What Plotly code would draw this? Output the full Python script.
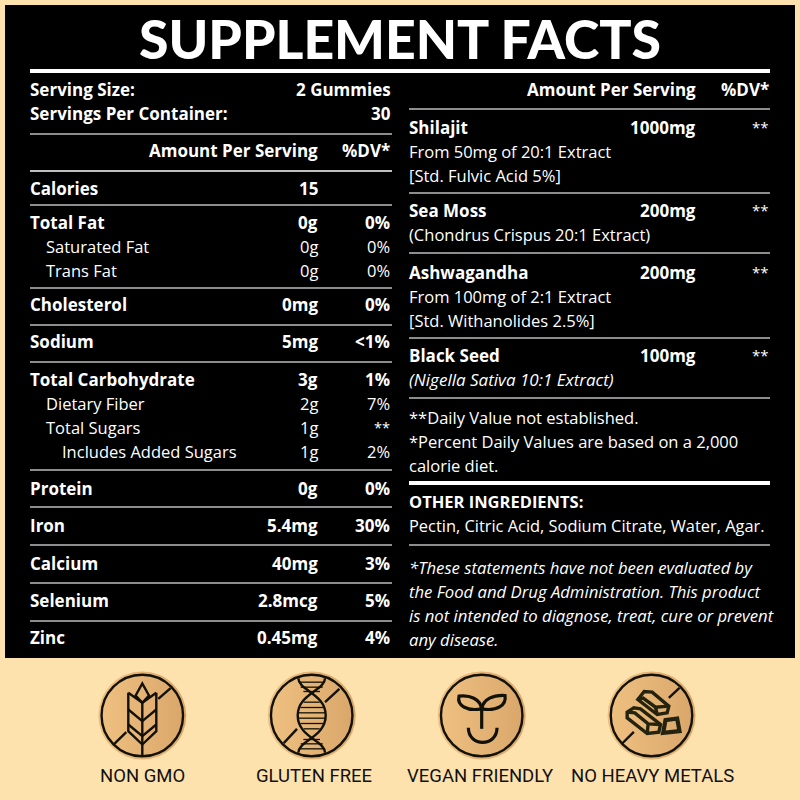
import plotly.graph_objects as go

# ---------- content ----------
title = "SUPPLEMENT FACTS"
serving_labels = ["Serving Size:", "Servings Per Container:"]
serving_values = ["2 Gummies", "30"]
amount_header = "Amount Per Serving"
dv_header = "%DV*"
nutrients = ["Calories", "Total Fat", "Saturated Fat", "Trans Fat", "Cholesterol", "Sodium",
             "Total Carbohydrate", "Dietary Fiber", "Total Sugars", "Includes Added Sugars",
             "Protein", "Iron", "Calcium", "Selenium", "Zinc"]
amounts = ["15", "0g", "0g", "0g", "0mg", "5mg", "3g", "2g", "1g", "1g", "0g", "5.4mg", "40mg", "2.8mcg", "0.45mg"]
daily_values = ["", "0%", "0%", "0%", "0%", "<1%", "1%", "7%", "**", "2%", "0%", "30%", "3%", "5%", "4%"]
ingredients = ["Shilajit", "Sea Moss", "Ashwagandha", "Black Seed"]
ingredient_amounts = ["1000mg", "200mg", "200mg", "100mg"]
ingredient_dv = ["**", "**", "**", "**"]
ingredient_notes = ["From 50mg of 20:1 Extract", "[Std. Fulvic Acid 5%]", "(Chondrus Crispus 20:1 Extract)",
                    "From 100mg of 2:1 Extract", "[Std. Withanolides 2.5%]", "(Nigella Sativa 10:1 Extract)"]
footnotes = ["**Daily Value not established.", "*Percent Daily Values are based on a 2,000", "calorie diet."]
other_title = "OTHER INGREDIENTS:"
other_text = "Pectin, Citric Acid, Sodium Citrate, Water, Agar."
disclaimer = ["*These statements have not been evaluated by", "the Food and Drug Administration. This product",
              "is not intended to diagnose, treat, cure or prevent", "any disease."]
badges = ["NON GMO", "GLUTEN FREE", "VEGAN FRIENDLY", "NO HEAVY METALS"]

# ---------- layout ----------
FONT = "Open Sans"
BADGE_FONT = "Roboto"
S_BOLD = 17
S_REG = 16.5
nutrient_y = [188, 222, 246, 270, 304, 341, 379, 403, 427, 451, 488, 525, 563, 600, 637]
nutrient_x = [29, 29, 45, 45, 29, 29, 29, 45, 45, 61, 29, 29, 29, 29, 29]
nutrient_bold = [1, 1, 0, 0, 1, 1, 1, 0, 0, 0, 1, 1, 1, 1, 1]
ingredient_y = [127, 210, 272, 355]
note_y = [151, 175, 234, 296, 320, 379]
note_italic = [0, 0, 0, 0, 0, 1]
left_gray = [134, 205, 288, 325, 362, 470, 507, 545, 583, 621]
left_white = [171]
right_gray = [109, 193, 253, 338, 398, 545]

BG = "#FDE2AE"
annos = []


def t(x, y, s, anchor="left", bold=False, italic=False, size=None, font=FONT, color="white"):
    if size is None:
        size = S_BOLD if bold else S_REG
    annos.append(dict(x=x, y=y, text=s.replace("<", "&lt;"), xref="x", yref="y", showarrow=False, xanchor=anchor,
                      yanchor="middle", borderpad=0,
                      font=dict(family=font, size=size, color=color,
                                weight=900 if font == "Lato" else (700 if bold else 400),
                                style="italic" if italic else "normal")))


t(400, 38, title, "center", True, size=53.5, font="Lato")
for lab, val, y in zip(serving_labels, serving_values, [89, 113]):
    t(29, y, lab, bold=True)
    t(392, y, val, "right", True)
t(318.5, 150, amount_header, "right", True)
t(391, 150, dv_header, "right", True)
for n, a, d, x, y, b in zip(nutrients, amounts, daily_values, nutrient_x, nutrient_y, nutrient_bold):
    t(x, y, n, bold=bool(b))
    t(318.5, y, a, "right", bool(b))
    if d:
        t(391, y, d, "right", bool(b), size=14.5 if d == "**" else None)
t(696.5, 89, amount_header, "right", True)
t(770, 89, dv_header, "right", True)
for n, a, d, y in zip(ingredients, ingredient_amounts, ingredient_dv, ingredient_y):
    t(408, y, n, bold=True)
    t(696.5, y, a, "right", True)
    t(770, y, d, "right", size=15)
for n, y, i in zip(ingredient_notes, note_y, note_italic):
    t(408, y, n, italic=bool(i), size=17 if i else None)
for n, y in zip(footnotes, [417, 441, 465]):
    t(408, y, n)
t(408, 501, other_title, bold=True, size=16.5)
t(408, 525, other_text, size=16.4)
for n, y in zip(disclaimer, [567, 591, 615, 639]):
    t(408, y, n, italic=True, size=16.7)
for n, x in zip(badges, [142, 313.5, 479.5, 652]):
    t(x, 776, n, "center", size=18.5, font=BADGE_FONT, color="#111111")

shapes = [dict(type="rect", x0=5, x1=795, y0=5, y1=658, fillcolor="black", line_width=0, layer="below")]


def hline(x0, x1, y, w, c):
    shapes.append(dict(type="line", x0=x0, x1=x1, y0=y, y1=y, line=dict(color=c, width=w)))


hline(30, 770, 71, 4, "white")
for y in left_gray:
    hline(30, 392, y, 1.6, "#BDBDBD")
for y in left_white:
    hline(30, 392, y, 1.6, "white")
for y in right_gray:
    hline(409, 770, y, 1.6, "#BDBDBD")
hline(409, 770, 483, 4, "white")

ICON = "#111108"
BAR = "#24230F"
centers = [(142.3, 715.5), (311.7, 715.5), (481.7, 715.5), (651.5, 715.5)]


def icon_path(cx, cy, d, w=2.4, color=ICON):
    # d: list of ('M'|'L'|'C'|'Z', pts) in 3x zoomed offsets from the icon centre
    out = []
    for cmd, *pts in d:
        out.append(cmd + " " + " ".join(f"{cx + p[0] / 3:.2f},{cy + p[1] / 3:.2f}" for p in pts))
    shapes.append(dict(type="path", path=" ".join(out), line=dict(color=color, width=w),
                       fillcolor="rgba(0,0,0,0)"))


def poly(*pts, close=False):
    d = [("M", pts[0])] + [("L", p) for p in pts[1:]]
    if close:
        d.append(("Z",))
    return d


# slash lines
for (cx, cy), segs in zip(centers, [
    [((-84, 85), (-48, 50)), ((48, -50), (85, -82))],
    [((-84, 83), (-44, 40)), ((40, -40), (83, -80))],
    [],
    [((-88, 84), (-53, 49)), ((52, -53), (84, -83))],
]):
    for a, b in segs:
        icon_path(cx, cy, poly(a, b))

# wheat
cx, cy = centers[0]
icon_path(cx, cy, poly((0, 122), (0, -38)))
icon_path(cx, cy, poly((0, -96), (-20, -60), (0, -38), (20, -60), close=True))
for s in (-1, 1):
    icon_path(cx, cy, poly((s * 42, -68), (s * 42, 47), (0, 87)))
    icon_path(cx, cy, poly((s * 42, -68), (0, -38)))
    icon_path(cx, cy, poly((s * 42, -18), (0, 17)))
    icon_path(cx, cy, poly((s * 42, 27), (0, 62)))

# DNA
cx, cy = centers[1]
for s in (-1, 1):
    icon_path(cx, cy, [("M", (s * 40, -112)), ("C", (s * 40, -75), (-s * 42, -65), (-s * 42, 0)),
                       ("C", (-s * 42, 65), (s * 40, 75), (s * 40, 112))])
for y, hw in [(-100, 37), (-85, 33), (-72, 25), (-40, 24), (-24, 34), (-8, 40), (8, 40), (24, 34), (40, 24),
              (72, 25), (85, 33), (100, 37)]:
    icon_path(cx, cy, poly((-hw, y), (hw, y)), w=1.3)

# sprout
cx, cy = centers[2]
icon_path(cx, cy, poly((0, -32), (0, 40)), w=3.2)
icon_path(cx, cy, [("M", (0, -20)), ("C", (-45, -12), (-75, -30), (-68, -58)),
                   ("C", (-35, -62), (-5, -50), (0, -20)), ("Z",)], w=3.2)
icon_path(cx, cy, [("M", (0, -20)), ("C", (45, -12), (75, -30), (70, -60)),
                   ("C", (35, -62), (5, -50), (0, -20)), ("Z",)], w=3.2)
icon_path(cx, cy, [("M", (-40, 37)), ("C", (-40, 95), (46, 95), (46, 37))], w=3.2)

# gold bars
cx, cy = centers[3]
bw = 3.4
icon_path(cx, cy, poly((-41, -48), (-22, -72), (2, -70), (52, -28), (47, -8), (17, -3), close=True), w=bw, color=BAR)
icon_path(cx, cy, poly((-41, -48), (-25, -52), (12, -25), (52, -28)), w=bw, color=BAR)
icon_path(cx, cy, poly((12, -25), (17, -3)), w=bw, color=BAR)
icon_path(cx, cy, poly((-73, -10), (-53, -23), (-33, -20), (27, 27), (22, 50), (-13, 54), (-73, 7), close=True),
          w=bw, color=BAR)
icon_path(cx, cy, poly((-73, -10), (-50, -8), (-10, 25), (27, 27)), w=bw, color=BAR)
icon_path(cx, cy, poly((-10, 25), (-13, 54)), w=bw, color=BAR)
icon_path(cx, cy, poly((42, 14), (77, 9), (84, 47), (35, 52), close=True), w=4.2, color=BAR)

fig = go.Figure()
# badge discs: marker size is a diameter in pixels
fig.add_trace(go.Scatter(
    x=[c[0] for c in centers], y=[c[1] for c in centers], mode="markers", hoverinfo="skip",
    marker=dict(size=88, color="#EFC181", symbol="circle",
                gradient=dict(type="horizontal", color="#D9A66A"),
                line=dict(width=0)),
))
fig.add_trace(go.Scatter(
    x=[c[0] for c in centers], y=[c[1] for c in centers], mode="markers", hoverinfo="skip",
    marker=dict(size=81.5, color="rgba(0,0,0,0)", symbol="circle", line=dict(color=ICON, width=2.4)),
))
fig.update_layout(
    width=800, height=800, margin=dict(l=0, r=0, t=0, b=0), autosize=False,
    paper_bgcolor=BG, plot_bgcolor=BG, showlegend=False, shapes=shapes, annotations=annos,
    xaxis=dict(range=[0, 800], visible=False, fixedrange=True),
    yaxis=dict(range=[800, 0], visible=False, fixedrange=True),
)
fig.write_html("out.html", config=dict(displayModeBar=False),
               post_script="document.body.style.margin='0';document.documentElement.style.overflow='hidden';")
